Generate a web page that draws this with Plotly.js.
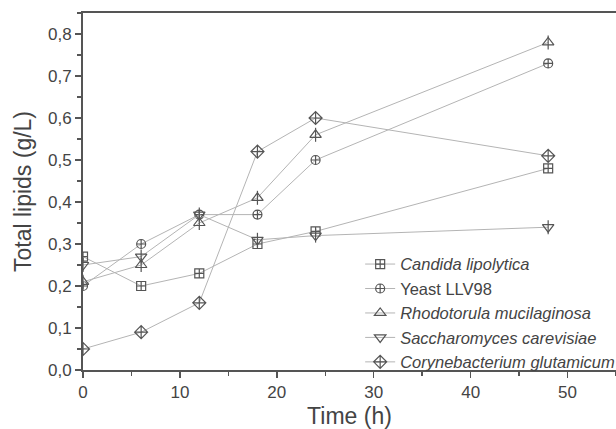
<!DOCTYPE html>
<html>
<head>
<meta charset="utf-8">
<script src="https://cdn.plot.ly/plotly-3.0.1.min.js"></script>
<style>html,body{margin:0;padding:0;background:#fff;}#chart{width:616px;height:429px;}</style>
</head>
<body>
<div id="chart"></div>
<script>
const timeH = [0, 6, 12, 18, 24, 48];
const candida = [0.27, 0.20, 0.23, 0.30, 0.33, 0.48];
const yeastLLV98 = [0.20, 0.30, 0.37, 0.37, 0.50, 0.73];
const rhodotorula = [0.21, 0.25, 0.35, 0.41, 0.56, 0.78];
const saccharomyces = [0.25, 0.27, 0.37, 0.31, 0.32, 0.34];
const corynebacterium = [0.05, 0.09, 0.16, 0.52, 0.60, 0.51];
const seriesNames = ['<i>Candida lipolytica</i>', 'Yeast LLV98', '<i>Rhodotorula mucilaginosa</i>', '<i>Saccharomyces carevisiae</i>', '<i>Corynebacterium glutamicum</i>'];

const lineColor = '#b4b4b4';
const markColor = '#555555';
const font = '"Liberation Sans Narrow", "Arial Narrow", "Liberation Sans", Arial, sans-serif';

function tr(y, name, symbol, size) {
  return {
    x: timeH, y: y, name: name, type: 'scatter', mode: 'lines+markers',
    line: {color: lineColor, width: 1},
    marker: {symbol: symbol, size: size, color: markColor, line: {color: markColor, width: 1.2}}
  };
}
function bar(y) {
  return {
    x: timeH, y: y, type: 'scatter', mode: 'markers', showlegend: false, hoverinfo: 'skip',
    marker: {symbol: 'line-ns-open', size: 10, color: markColor, line: {color: markColor, width: 1.2}}
  };
}

const data = [
  tr(candida, seriesNames[0], 'square-cross-open', 9),
  tr(yeastLLV98, seriesNames[1], 'circle-cross-open', 9),
  tr(rhodotorula, seriesNames[2], 'triangle-up-open', 10),
  tr(saccharomyces, seriesNames[3], 'triangle-down-open', 10),
  tr(corynebacterium, seriesNames[4], 'diamond-cross-open', 10),
  bar(rhodotorula),
  bar(saccharomyces)
];

const layout = {
  width: 616, height: 429,
  margin: {l: 83, r: 0, t: 13, b: 59, autoexpand: false},
  paper_bgcolor: '#fff', plot_bgcolor: '#fff',
  separators: ',.',
  font: {family: font, color: '#444', size: 16},
  showlegend: true,
  legend: {
    x: 0.52, y: 0.345, xanchor: 'left', yanchor: 'top',
    bgcolor: 'rgba(0,0,0,0)', font: {family: font, size: 16.5, color: '#444'},
    tracegroupgap: 0, itemsizing: 'trace'
  },
  xaxis: {
    range: [0, 55], tickvals: [0, 10, 20, 30, 40, 50],
    ticks: 'outside', ticklen: 6, tickwidth: 1.5, tickcolor: '#555',
    minor: {dtick: 5, ticks: 'outside', ticklen: 4, tickwidth: 1.5, tickcolor: '#555'},
    showline: true, linecolor: '#555', linewidth: 2, mirror: true,
    showgrid: false, zeroline: false, automargin: false,
    tickfont: {size: 17, color: '#444'},
    title: {text: 'Time (h)', font: {size: 23, color: '#444'}, standoff: 6}
  },
  yaxis: {
    range: [0, 0.85], dtick: 0.1, tick0: 0, tickformat: '.1f',
    ticks: 'outside', ticklen: 6, tickwidth: 1.5, tickcolor: '#555',
    minor: {dtick: 0.05, ticks: 'outside', ticklen: 4, tickwidth: 1.5, tickcolor: '#555'},
    showline: true, linecolor: '#555', linewidth: 2,
    showgrid: false, zeroline: false, automargin: false,
    tickfont: {size: 17, color: '#444'},
    title: {text: 'Total lipids (g/L)', font: {size: 23, color: '#444'}, standoff: 10}
  }
};

Plotly.newPlot('chart', data, layout, {displayModeBar: false, staticPlot: true});
</script>
</body>
</html>
